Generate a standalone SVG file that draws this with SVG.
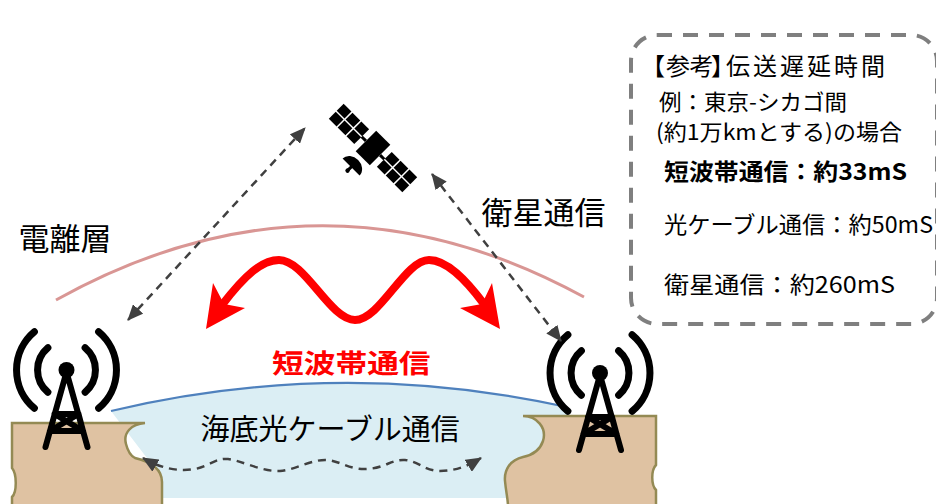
<svg xmlns="http://www.w3.org/2000/svg" width="936" height="504" viewBox="0 0 936 504">
  <style>
    .jp { font-family: "Noto Sans CJK JP", "Noto Sans", sans-serif; fill: #000; }
    .dash { fill: none; stroke: #404040; stroke-width: 2.5; stroke-dasharray: 8 6; }
    .land { fill: #dfc2a2; stroke: #948a54; stroke-width: 2.5; }
    .icon { fill: none; stroke: #000; stroke-linecap: round; stroke-linejoin: round; }
    .cell { fill: #000; }
  </style>
  <defs>
    <marker id="ah" viewBox="0 0 16 14" refX="15" refY="7" markerWidth="16" markerHeight="14" markerUnits="userSpaceOnUse" orient="auto-start-reverse">
      <path d="M0,0 L16,7 L0,14 Z" fill="#404040"/>
    </marker>
    <!-- radio mast with signal arcs, ball at origin -->
    <g id="mast">
      <path class="icon" stroke-width="7" d="M-18.6,-22.2 A29,29 0 0 0 -18.6,22.2 M18.6,-22.2 A29,29 0 0 1 18.6,22.2 M-32.1,-38.3 A50,50 0 0 0 -32.1,38.3 M32.1,-38.3 A50,50 0 0 1 32.1,38.3"/>
      <circle cx="0" cy="0" r="8" fill="#000"/>
      <path class="icon" stroke-width="6" d="M0,2 L-21,77 M0,2 L21,77 M-12,44 L12,44 L-16.5,61 M12,44 L16.5,61 L-16.5,61 M-12,44 L16.5,61"/>
    </g>
  </defs>

  <rect width="936" height="504" fill="#fff"/>

  <!-- sea -->
  <g id="sea">
    <path d="M111,411 Q339,357 567,407 L567,498 L150,498 L150,462 Z" fill="#dbeef4"/>
    <path d="M111,411 Q339,357 567,407" fill="none" stroke="#4f81bd" stroke-width="2.2"/>
  </g>

  <!-- coasts -->
  <g id="land-left">
    <path class="land" d="M12,423 L145,423 C131,424 123,433 126,444 C128,452 131,456 135,458 C152,462 162,470 162,482 L162,506 L12,506 L12,497 C17,492 17,474 12,468 Z"/>
  </g>
  <g id="land-right">
    <path class="land" d="M656,416 L523,416 C537,416 547,428 543,441 C540,450 533,455 523,457 C510,460 504,470 505,481 C506,492 508,500 508,506 L656,506 L656,490 C651,485 651,470 656,465 Z"/>
  </g>

  <!-- ground stations -->
  <g id="station-left">
    <use href="#mast" transform="translate(66.5,370)"/>
  </g>
  <g id="station-right">
    <use href="#mast" transform="translate(600,373)"/>
  </g>

  <!-- satellite -->
  <g id="satellite" transform="translate(373,148) rotate(45)">
    <rect x="-10" y="-14.5" width="20" height="29" fill="#000"/>
    <path d="M-16,0 H-10 M10,0 H16" stroke="#000" stroke-width="3"/>
    <g class="cell">
      <rect x="-52" y="-10.5" width="11" height="9.8"/>
      <rect x="-52" y="0.7" width="11" height="9.8"/>
      <rect x="-39.5" y="-10.5" width="11" height="9.8"/>
      <rect x="-39.5" y="0.7" width="11" height="9.8"/>
      <rect x="-27" y="-10.5" width="11" height="9.8"/>
      <rect x="-27" y="0.7" width="11" height="9.8"/>
      <rect x="16" y="-10.5" width="11" height="9.8"/>
      <rect x="16" y="0.7" width="11" height="9.8"/>
      <rect x="28.5" y="-10.5" width="11" height="9.8"/>
      <rect x="28.5" y="0.7" width="11" height="9.8"/>
      <rect x="41" y="-10.5" width="11" height="9.8"/>
      <rect x="41" y="0.7" width="11" height="9.8"/>
    </g>
    <!-- antenna dish -->
    <path d="M-14,29 A12,10 0 0 1 10,29 Z" fill="#000"/>
    <path d="M-2,29 L-2,33" stroke="#000" stroke-width="3" stroke-linecap="round"/>
    <circle cx="-2" cy="34" r="2.2" fill="#000"/>
  </g>

  <!-- ionosphere -->
  <g id="ionosphere">
    <path d="M56,300 Q320,153 584,297" fill="none" stroke="#d99694" stroke-width="3"/>
    <text class="jp" x="18.5" y="250" font-size="31">電離層</text>
  </g>

  <!-- connectors -->
  <g id="connectors">
    <line class="dash" x1="128" y1="320" x2="305" y2="128" marker-start="url(#ah)" marker-end="url(#ah)"/>
    <line class="dash" x1="432" y1="174" x2="561" y2="341" marker-start="url(#ah)" marker-end="url(#ah)"/>
    <path class="dash" stroke-dasharray="9 7" d="M143,458 C160,468 178,472 195,469 C210,466 215,458 228,459 C240,460 262,472 280,471 C295,470 312,459 327,460 C340,461 350,470 367,469 C385,468 392,459 405,460 C418,461 425,471 440,471 C455,471 468,466 481,458" marker-start="url(#ah)" marker-end="url(#ah)"/>
    <g id="shortwave-arrow" fill="#ff0000">
      <path d="M222,305 C245,275 262,260 279,260 C305,260 330,320 355,320 C380,320 405,260 429,260 C447,260 466,280 484,304" fill="none" stroke="#ff0000" stroke-width="8"/>
      <polygon points="206,329 213,283 224,304 245,308"/>
      <polygon points="500,329 492,283 482,304 460,308"/>
    </g>
  </g>

  <!-- labels -->
  <g id="labels">
    <text class="jp" x="481.5" y="224" font-size="31">衛星通信</text>
    <text class="jp" x="200.5" y="440" font-size="29">海底光ケーブル通信</text>
    <text class="jp" transform="translate(272,373) scale(1.22,1)" font-size="26" font-weight="bold" style="fill:#ff0000">短波帯通信</text>
  </g>

  <!-- reference note -->
  <g id="note">
    <rect x="631" y="35" width="306" height="289" rx="26" fill="none" stroke="#7f7f7f" stroke-width="4" stroke-dasharray="15 11"/>
    <text class="jp" font-size="24" y="75" x="641 666 689.5 711 726 753 780 807 834 861">【参考】伝送遅延時間</text>
    <text class="jp" x="659" y="110" font-size="22" textLength="188" lengthAdjust="spacingAndGlyphs">例：東京-シカゴ間</text>
    <text class="jp" x="656" y="139.5" font-size="22" textLength="246" lengthAdjust="spacingAndGlyphs">(約1万kmとする)の場合</text>
    <text class="jp" x="664" y="179.5" font-size="23" font-weight="bold" textLength="243" lengthAdjust="spacingAndGlyphs">短波帯通信：約33mS</text>
    <text class="jp" x="664" y="233" font-size="23" textLength="269" lengthAdjust="spacingAndGlyphs">光ケーブル通信：約50mS</text>
    <text class="jp" x="664" y="293" font-size="23" textLength="231" lengthAdjust="spacingAndGlyphs">衛星通信：約260mS</text>
  </g>
</svg>
